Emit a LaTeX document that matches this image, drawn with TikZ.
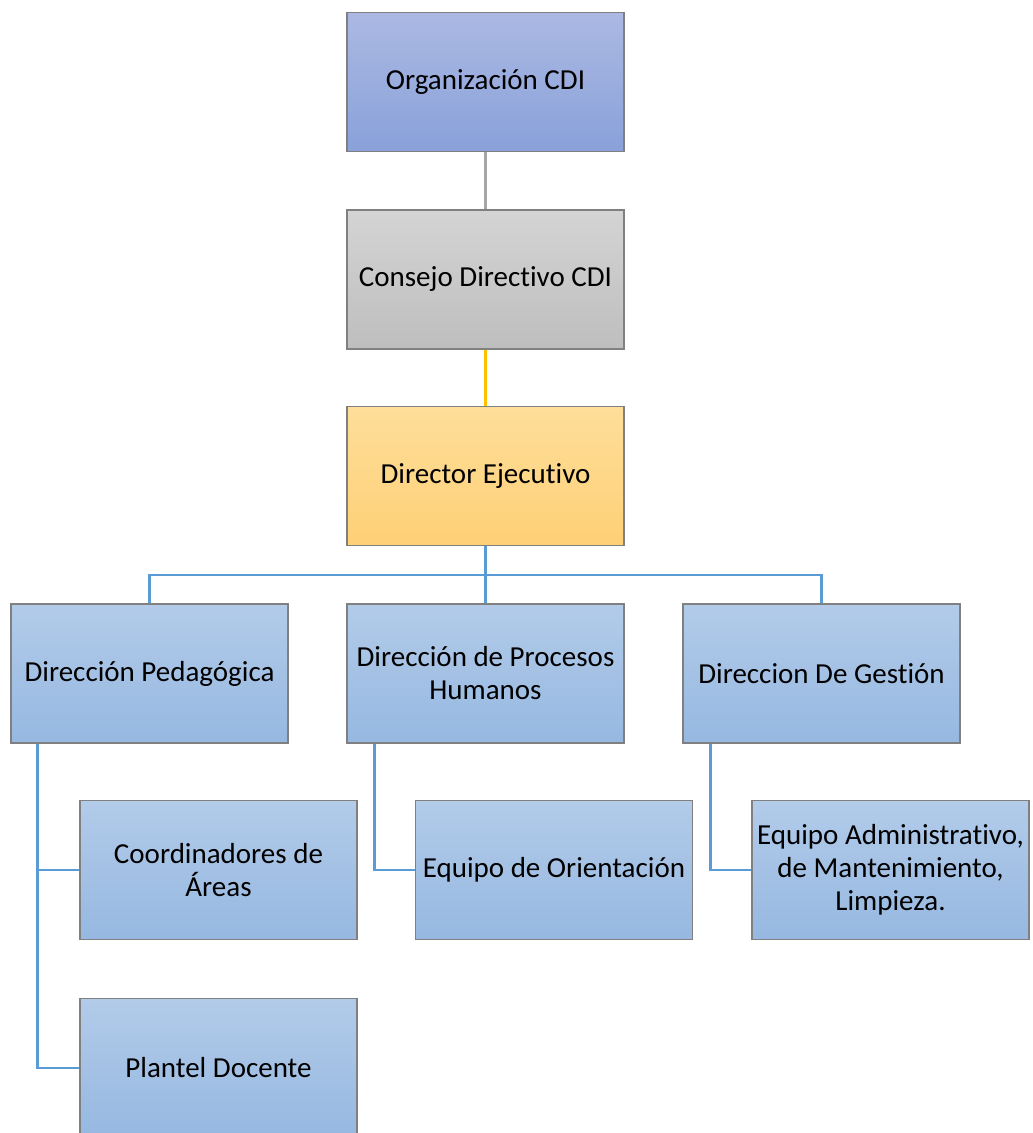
\documentclass[tikz,border=0pt]{standalone}
\usepackage{fontspec}
\setmainfont{Carlito}[Ligatures={NoCommon}]
\definecolor{orgtop}{RGB}{171,185,227}
\definecolor{orgbot}{RGB}{137,161,217}
\definecolor{graytop}{RGB}{212,212,212}
\definecolor{graybot}{RGB}{190,190,190}
\definecolor{ortop}{RGB}{254,222,154}
\definecolor{orbot}{RGB}{254,208,118}
\definecolor{bltop}{RGB}{178,203,233}
\definecolor{blbot}{RGB}{150,184,225}
\definecolor{boxline}{RGB}{128,128,128}
\definecolor{lgray}{RGB}{165,165,165}
\definecolor{lyellow}{RGB}{255,192,0}
\definecolor{lblue}{RGB}{91,155,213}
\tikzset{
  box/.style={draw=boxline, line width=1.2pt, rectangle, minimum width=277pt, minimum height=139pt,
    inner sep=0pt, align=center, font=\fontsize{29}{33}\selectfont},
  orgbox/.style={box, top color=orgtop, bottom color=orgbot},
  graybox/.style={box, top color=graytop, bottom color=graybot},
  orbox/.style={box, top color=ortop, bottom color=orbot},
  blbox/.style={box, top color=bltop, bottom color=blbot},
  conn/.style={line width=2.5pt, draw=lblue}
}
\begin{document}
\begin{tikzpicture}[x=1pt,y=-1pt]
\useasboundingbox (0,0) rectangle (1033,1133);
\clip (0,0) rectangle (1033,1133);
\node[orgbox] (org) at (485.5,82) {Organización CDI};
\node[graybox] (cons) at (485.5,279.5) {Consejo Directivo CDI};
\node[orbox] (dir) at (485.5,476) {Director Ejecutivo};
\node[blbox] (dp) at (149.5,673.5) {Dirección Pedagógica};
\node[blbox] (dph) at (485.5,673.5) {Dirección de Procesos\\Humanos};
\node[blbox] (dg) at (821.5,673.5) {Direccion De Gestión};
\node[blbox] (coord) at (218.5,870) {Coordinadores de\\Áreas};
\node[blbox] (orient) at (554,870) {Equipo de Orientación};
\node[blbox] (admin) at (890.5,870) {Equipo Administrativo,\\de Mantenimiento,\\Limpieza.};
\node[blbox] (plantel) at (218.5,1068) {Plantel Docente};
\coordinate (bus) at (485.5,575);
\draw[line width=2.5pt, lgray] (org.south) -- (cons.north);
\draw[line width=2.5pt, lyellow] (cons.south) -- (dir.north);
\draw[conn] (dir.south) -- (bus);
\draw[conn] (bus) -| (dp.north);
\draw[conn] (bus) -| (dg.north);
\draw[conn] (bus) -- (dph.north);
\draw[conn] ([xshift=27pt]dp.south west) |- (coord.west);
\draw[conn] ([xshift=27pt]dp.south west) |- (plantel.west);
\draw[conn] ([xshift=28pt]dph.south west) |- (orient.west);
\draw[conn] ([xshift=28pt]dg.south west) |- (admin.west);
\end{tikzpicture}
\end{document}
